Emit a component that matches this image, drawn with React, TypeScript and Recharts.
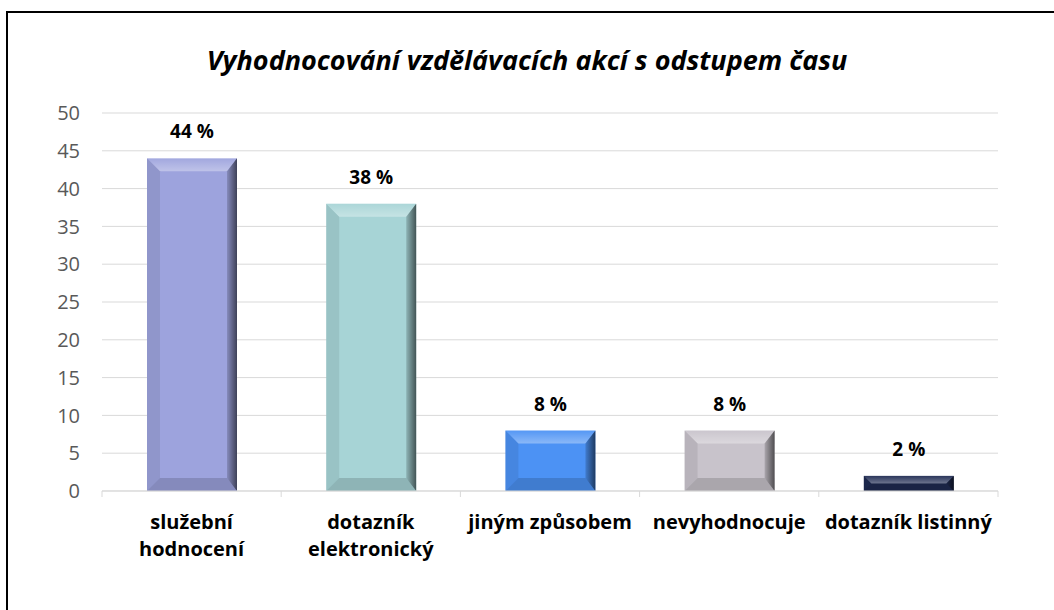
import React from "react";
import { BarChart, Bar, XAxis, YAxis, CartesianGrid, Cell, LabelList } from "recharts";

const categories = ["služební hodnocení", "dotazník elektronický", "jiným způsobem", "nevyhodnocuje", "dotazník listinný"];
const values = [44, 38, 8, 8, 2];
const colors = ["#9DA3DD", "#A7D4D6", "#4C92F4", "#C8C3CB", "#1F2B52"];
const yTicks = [0, 5, 10, 15, 20, 25, 30, 35, 40, 45, 50];
const title = "Vyhodnocování vzdělávacích akcí s odstupem času";

const data = categories.map((c, i) => ({ name: c, value: values[i], color: colors[i] }));

const FONT = "'Open Sans', sans-serif";
const W = 1054;
const H = 610;
const M = { top: 113, right: 56, bottom: 59, left: 42 };
const YW = 60;
const plotW = W - M.left - M.right - YW;
const band = plotW / categories.length;

const BevelBar = (props: any) => {
  const { x, y, width, height, fill, index } = props;
  if (!height || height <= 0) return null;
  const b = Math.min(13, height / 2, width / 2);
  const r = Math.min(10, height / 2);
  const id = `g${index}`;
  return (
    <g>
      <defs>
        <linearGradient id={`${id}r`} x1="0" y1="0" x2="1" y2="0">
          <stop offset="0" stopColor="#000" stopOpacity="0.15" />
          <stop offset="1" stopColor="#000" stopOpacity="0.6" />
        </linearGradient>
        <linearGradient id={`${id}t`} x1="0" y1="0" x2="0" y2="1">
          <stop offset="0" stopColor="#fff" stopOpacity="0.05" />
          <stop offset="1" stopColor="#fff" stopOpacity="0.35" />
        </linearGradient>
      </defs>
      <rect x={x} y={y} width={width} height={height} fill={fill} />
      <polygon points={`${x},${y} ${x + width},${y} ${x + width - r},${y + b} ${x + b},${y + b}`} fill={`url(#${id}t)`} />
      <polygon points={`${x},${y} ${x + b},${y + b} ${x + b},${y + height - b} ${x},${y + height}`} fill="#000" fillOpacity={0.08} />
      <polygon points={`${x + width},${y} ${x + width},${y + height} ${x + width - r},${y + height - b} ${x + width - r},${y + b}`} fill={`url(#${id}r)`} />
      <polygon points={`${x},${y + height} ${x + width},${y + height} ${x + width - r},${y + height - b} ${x + b},${y + height - b}`} fill="#000" fillOpacity={0.15} />
    </g>
  );
};

const XTick = (props: any) => {
  const { x, y, payload, index } = props;
  const words = String(payload.value);
  const lines = words === "jiným způsobem" || words === "nevyhodnocuje" || words === "dotazník listinný" ? [words] : words.split(" ");
  const yLine = y - 8;
  return (
    <g>
      <line x1={x - band / 2} x2={x - band / 2} y1={yLine} y2={yLine + 6} stroke="#D9D9D9" strokeWidth={1} />
      {index === categories.length - 1 && (
        <line x1={x + band / 2} x2={x + band / 2} y1={yLine} y2={yLine + 6} stroke="#D9D9D9" strokeWidth={1} />
      )}
      {lines.map((l, i) => (
        <text key={i} x={x} y={yLine + 38 + i * 27} textAnchor="middle" fontFamily={FONT} fontWeight="bold" fontSize={20} fill="#000">
          {l}
        </text>
      ))}
    </g>
  );
};

export default function App() {
  return (
    <div style={{ position: "absolute", left: 0, top: 0, width: W, height: H, overflow: "hidden", background: "#fff" }}>
      <div style={{ position: "absolute", left: 6, top: 11, width: W - 6, height: H - 11, borderTop: "2px solid #000", borderLeft: "2px solid #000", boxSizing: "border-box" }} />
      <div style={{ position: "absolute", left: 0, top: 41, width: W, textAlign: "center", fontFamily: FONT, fontWeight: "bold", fontStyle: "italic", fontSize: 27, color: "#000", lineHeight: "38px" }}>
        {title}
      </div>
      <div style={{ position: "absolute", left: 0, top: 0 }}>
        <BarChart width={W} height={H} data={data} margin={M} barCategoryGap={0}>
          <CartesianGrid vertical={false} stroke="#D9D9D9" strokeWidth={1} />
          <XAxis dataKey="name" interval={0} axisLine={{ stroke: "#D9D9D9" }} tickLine={false} tick={<XTick />} height={60} />
          <YAxis domain={[0, 50]} ticks={yTicks} width={YW} axisLine={false} tickLine={false} tickSize={0} tickMargin={22}
            tick={{ fontFamily: FONT, fontSize: 20, fill: "#595959" }} />
          <Bar dataKey="value" barSize={90} shape={<BevelBar />} isAnimationActive={false}>
            {data.map((d, i) => (
              <Cell key={i} fill={d.color} />
            ))}
            <LabelList dataKey="value" position="top" offset={20} formatter={(v: any) => `${v} %`}
              style={{ fontFamily: FONT, fontWeight: "bold", fontSize: 19, fill: "#000" }} />
          </Bar>
        </BarChart>
      </div>
    </div>
  );
}
